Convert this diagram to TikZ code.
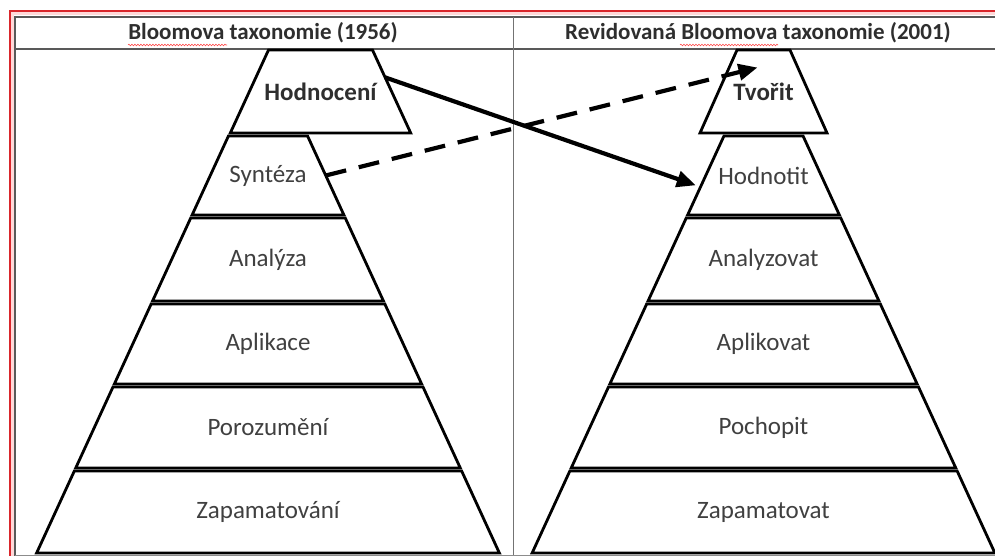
\documentclass[tikz,border=0pt]{standalone}
\usepackage{fontspec}
\setmainfont{Carlito}
\usepackage{tikz}
\usetikzlibrary{arrows.meta,calc,decorations.pathmorphing}
\definecolor{LabelGray}{HTML}{404040}
\definecolor{HeadGray}{HTML}{2E2E2E}
\definecolor{FrameRed}{HTML}{D9262B}

\begin{document}
\begin{tikzpicture}[x=1pt,y=-1pt,
  level/.style={draw,line width=2.8pt,line join=miter},
  lbl/.style={inner sep=0pt,text=LabelGray,font={\fontsize{25}{27}\selectfont}},
  lblbold/.style={inner sep=0pt,text=HeadGray,font={\fontsize{25}{27}\selectfont\bfseries}},
  head/.style={inner sep=0pt,text=HeadGray,font={\fontsize{23}{25}\selectfont\bfseries}},
  spell/.style={red!70,line width=0.6pt,decorate,decoration={snake,amplitude=0.8pt,segment length=3pt}},
  arrow/.style={line width=4.2pt,-{Triangle[length=19pt,width=16pt]}}
]
  \useasboundingbox (0,0) rectangle (995,556);
  \fill[white] (0,0) rectangle (995,556);

  % page and table frame
  \draw[red!15,line width=3pt] (12.5,556) -- (12.5,14) -- (995,14);
  \draw[FrameRed,line width=2pt] (9.5,556) -- (9.5,11.5) -- (995,11.5);
  \draw[black!65,line width=1.2pt] (15,556) -- (15,17) -- (995,17);
  \draw[black!65,line width=1.5pt] (15,49) -- (995,49);
  \draw[black!55,line width=0.8pt] (513,17) -- (513,556);
  \draw[black!45,line width=0.8pt] (15,555.5) -- (995,555.5);

  \node[head] (headL) at (263,33) {Bloomova taxonomie (1956)};
  \node[head] (headR) at (758,33) {Revidovaná Bloomova taxonomie (2001)};
  \draw[spell] (128,45) -- (227,45);
  \draw[spell] (680,45) -- (778,45);

  % top tiers
  \draw[level] (268.5,50) coordinate (L1-tl) -- (372.5,50) coordinate (L1-tr)
    -- (410.7,133) coordinate (L1-br) -- (230.3,133) coordinate (L1-bl) -- cycle;
  \node[lblbold] (L1) at (320.5,91.5) {Hodnocení};
  \draw[level] (737,50) coordinate (R1-tl) -- (790,50) coordinate (R1-tr)
    -- (827,133) coordinate (R1-br) -- (700,133) coordinate (R1-bl) -- cycle;
  \node[lblbold] (R1) at (763.5,91.5) {Tvořit};

  % lower tiers of both pyramids
  \foreach \i/\yt/\yb/\ltxt/\rtxt in {2/136/215/Syntéza/Hodnotit,
      3/218/301/Analýza/Analyzovat, 4/304/384/Aplikace/Aplikovat,
      5/387/468/Porozumění/Pochopit, 6/471/553/Zapamatování/Zapamatovat} {
    \draw[level] ({268-0.46*(\yt-50)},\yt) coordinate (L\i-tl)
      -- ({268+0.46*(\yt-50)},\yt) coordinate (L\i-tr)
      -- ({268+0.46*(\yb-50)},\yb) coordinate (L\i-br)
      -- ({268-0.46*(\yb-50)},\yb) coordinate (L\i-bl) -- cycle;
    \node[lbl] (L\i) at (268,{(\yt+\yb)/2}) {\ltxt};
    \draw[level] ({763.5-0.46*(\yt-50)},\yt) coordinate (R\i-tl)
      -- ({763.5+0.46*(\yt-50)},\yt) coordinate (R\i-tr)
      -- ({763.5+0.46*(\yb-50)},\yb) coordinate (R\i-br)
      -- ({763.5-0.46*(\yb-50)},\yb) coordinate (R\i-bl) -- cycle;
    \node[lbl] (R\i) at (763.5,{(\yt+\yb)/2}) {\rtxt};
  }

  \draw[arrow,shorten >=5pt] ($(L1-tr)!0.33!(L1-br)$) -- ($(R2-tl)!0.645!(R2-bl)$);
  \draw[arrow,dash pattern=on 21pt off 13pt] ($(L2-tr)!0.5!(L2-br)$) -- ($(R1)+(-6,-24)$);
\end{tikzpicture}
\end{document}
